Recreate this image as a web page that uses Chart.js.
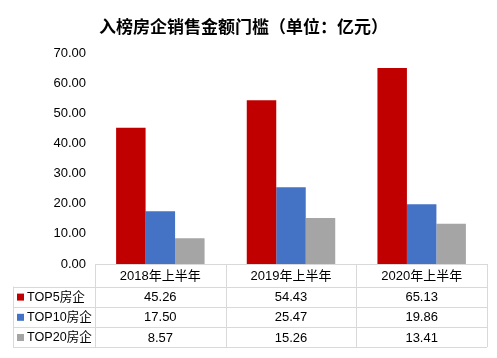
<!DOCTYPE html>
<html><head><meta charset="utf-8">
<script src="https://cdn.jsdelivr.net/npm/chart.js@4/dist/chart.umd.min.js"></script>
<style>html,body{margin:0;padding:0;background:#fff;}#wrap{width:497px;height:358px;}</style>
</head><body><div id="wrap"><canvas id="c" width="497" height="358"></canvas></div>
<script>
const categories = ["2018年上半年", "2019年上半年", "2020年上半年"];
const seriesNames = ["TOP5房企", "TOP10房企", "TOP20房企"];
const top5 = [45.26, 54.43, 65.13];
const top10 = [17.50, 25.47, 19.86];
const top20 = [8.57, 15.26, 13.41];
const yTicks = [0, 10, 20, 30, 40, 50, 60, 70];
const colors = ["#C00000", "#4472C4", "#A5A5A5"];
const titleText = "入榜房企销售金额门槛（单位：亿元）";
const FONT = '"Liberation Sans", "Noto Sans CJK SC", sans-serif';
const TFONT = '"Noto Sans CJK SC", sans-serif';

const tablePlugin = {
  id: 'dataTable',
  afterDraw(chart) {
    const ctx = chart.ctx;
    const x = chart.scales.x;
    const area = chart.chartArea;
    const top = area.bottom;
    const headerH = 22.5, rowH = 20.2;
    const legendLeft = 13;
    const n = categories.length;
    const half = (x.getPixelForTick(1) - x.getPixelForTick(0)) / 2;
    const left = x.getPixelForTick(0) - half;
    const right = x.getPixelForTick(n - 1) + half;
    const bottom = top + headerH + rowH * 3;
    ctx.save();
    ctx.strokeStyle = '#D9D9D9';
    ctx.lineWidth = 1;
    ctx.beginPath();
    ctx.moveTo(left, Math.round(top) + 0.5); ctx.lineTo(right, Math.round(top) + 0.5);
    for (let r = 0; r <= 3; r++) {
      const yy = Math.round(top + headerH + r * rowH) + 0.5;
      ctx.moveTo(legendLeft, yy); ctx.lineTo(right, yy);
    }
    for (let i = 0; i <= n; i++) {
      const xx = Math.round(left + i * half * 2) + 0.5;
      ctx.moveTo(xx, top); ctx.lineTo(xx, bottom);
    }
    ctx.moveTo(legendLeft + 0.5, top + headerH); ctx.lineTo(legendLeft + 0.5, bottom);
    ctx.stroke();
    ctx.fillStyle = '#000';
    ctx.font = '13px ' + FONT;
    ctx.textAlign = 'center';
    ctx.textBaseline = 'middle';
    categories.forEach((c, i) => ctx.fillText(c, x.getPixelForTick(i), top + headerH / 2 + 1));
    chart.data.datasets.forEach((ds, r) => {
      const cy = top + headerH + r * rowH + rowH / 2 + 1;
      ctx.fillStyle = ds.backgroundColor;
      ctx.fillRect(17, cy - 4, 7, 7);
      ctx.fillStyle = '#000';
      ctx.textAlign = 'left';
      ctx.font = '12.6px ' + FONT;
      ctx.fillText(ds.label, 27, cy);
      ctx.font = '13px ' + FONT;
      ctx.textAlign = 'center';
      ds.data.forEach((v, i) => ctx.fillText(v.toFixed(2), x.getPixelForTick(i), cy));
    });
    ctx.restore();
  }
};

new Chart(document.getElementById('c'), {
  type: 'bar',
  data: {
    labels: categories,
    datasets: [
      { label: seriesNames[0], data: top5, backgroundColor: colors[0] },
      { label: seriesNames[1], data: top10, backgroundColor: colors[1] },
      { label: seriesNames[2], data: top20, backgroundColor: colors[2] }
    ]
  },
  options: {
    responsive: false,
    animation: false,
    devicePixelRatio: 1,
    layout: { padding: { left: 0, right: 10, top: 0, bottom: 94 } },
    datasets: { bar: { categoryPercentage: 0.677, barPercentage: 1.0 } },
    plugins: {
      legend: { display: false },
      tooltip: { enabled: false },
      title: {
        display: true, text: titleText, color: '#000',
        font: { family: TFONT, size: 17, weight: 'bold' },
        padding: { top: 16, bottom: 17 }
      }
    },
    scales: {
      x: { display: false },
      y: {
        min: 0, max: 70,
        afterBuildTicks(s) { s.ticks = yTicks.map(v => ({ value: v })); },
        afterFit(s) { s.width = 95; },
        grid: { display: false, drawTicks: false },
        border: { display: false },
        ticks: {
          color: '#000', padding: 9,
          font: { family: FONT, size: 13 },
          callback: v => Number(v).toFixed(2)
        }
      }
    }
  },
  plugins: [tablePlugin]
});
</script></body></html>
